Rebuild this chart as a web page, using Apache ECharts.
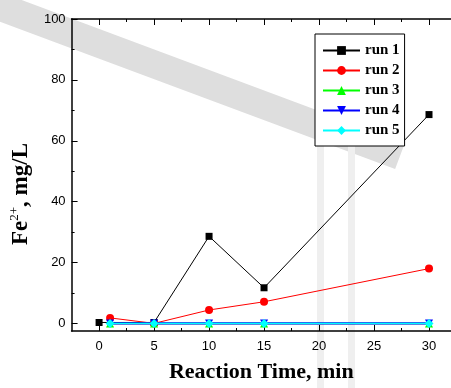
<!DOCTYPE html>
<html>
<head>
<meta charset="utf-8">
<script src="https://cdn.jsdelivr.net/npm/echarts@6/dist/echarts.min.js"></script>
<style>html,body{margin:0;padding:0;background:#fff}#c{width:451px;height:388px}</style>
</head>
<body>
<div id="c"></div>
<script>
// Data
const seriesNames = ['run 1', 'run 2', 'run 3', 'run 4', 'run 5'];
const run1 = [[0, 0.3], [5, 0.3], [10, 28.6], [15, 11.7], [30, 68.6]];
const run2 = [[1, 1.8], [5, 0], [10, 4.4], [15, 7.1], [30, 18.0]];
const run3 = [[1, 0], [5, 0], [10, 0], [15, 0], [30, 0]];
const run4 = [[1, 0], [5, 0], [10, 0], [15, 0], [30, 0]];
const run5 = [[1, 0], [5, 0], [10, 0], [15, 0], [30, 0]];
const xMajorTicks = [0, 5, 10, 15, 20, 25, 30];
const xMinorTicks = [2.5, 7.5, 12.5, 17.5, 22.5, 27.5];
const yMajorTicks = [0, 20, 40, 60, 80, 100];
const yMinorTicks = [10, 30, 50, 70, 90];

const colors = ['#000000', '#ff0000', '#00ff00', '#0000ff', '#00ffff'];
const symbols = ['rect', 'circle', 'triangle', 'path://M0,0 L10,0 L5,10 Z', 'diamond'];
const sizes = [7, 8, 8, 8, 9];
const widths = [1, 1, 1.5, 2.2, 1.3];
const allData = [run1, run2, run3, run4, run5];

const chart = echarts.init(document.getElementById('c'));
const xBase = {type: 'value', min: -2.5, max: 32, splitLine: {show: false}};
const yBase = {type: 'value', min: -2.5, max: 100, splitLine: {show: false}};
const axisLine = {show: true, onZero: false, lineStyle: {color: '#000', width: 1.5}};
const noLine = {show: false, onZero: false};
const labelStyle = {color: '#000', fontFamily: 'Liberation Sans, Arial, sans-serif', fontSize: 13};
const serif = 'Liberation Serif, Times New Roman, serif';

chart.setOption({
  animation: false,
  backgroundColor: '#fff',
  graphic: [
    {type: 'line', z: -10, silent: true, shape: {x1: -5, y1: 5, x2: 400, y2: 156},
      style: {stroke: '#dedede', lineWidth: 28}},
    {type: 'rect', z: -10, silent: true, shape: {x: 317, y: 145, width: 7, height: 243}, style: {fill: '#efefef'}},
    {type: 'rect', z: -10, silent: true, shape: {x: 348, y: 145, width: 7, height: 243}, style: {fill: '#efefef'}}
  ],
  grid: {left: 71, top: 19, width: 381, height: 312, containLabel: false},
  legend: {
    left: 315, top: 34,
    orient: 'vertical',
    data: seriesNames,
    itemWidth: 37, itemHeight: 11, itemGap: 5,
    padding: [9, 5, 8, 7],
    borderColor: '#000', borderWidth: 1,
    backgroundColor: '#fff',
    textStyle: {fontFamily: serif, fontWeight: 'bold', fontSize: 15, color: '#000', lineHeight: 15}
  },
  xAxis: [
    Object.assign({}, xBase, {position: 'bottom', axisLine: axisLine,
      axisTick: {show: true, inside: true, length: 6, customValues: xMajorTicks, lineStyle: {color: '#000', width: 1}},
      axisLabel: {show: true, customValues: xMajorTicks, margin: 9, ...labelStyle},
      name: 'Reaction Time, min', nameLocation: 'middle', nameGap: 30,
      nameTextStyle: {fontFamily: serif, fontWeight: 'bold', fontSize: 22, color: '#000'}}),
    Object.assign({}, xBase, {position: 'bottom', axisLine: noLine,
      axisTick: {show: true, inside: true, length: 3, customValues: xMinorTicks, lineStyle: {color: '#000', width: 1}},
      axisLabel: {show: false}}),
    Object.assign({}, xBase, {position: 'top', axisLine: axisLine,
      axisTick: {show: true, inside: true, length: 6, customValues: xMajorTicks, lineStyle: {color: '#000', width: 1}},
      axisLabel: {show: false}}),
    Object.assign({}, xBase, {position: 'top', axisLine: noLine,
      axisTick: {show: true, inside: true, length: 3, customValues: xMinorTicks, lineStyle: {color: '#000', width: 1}},
      axisLabel: {show: false}})
  ],
  yAxis: [
    Object.assign({}, yBase, {position: 'left', axisLine: axisLine,
      axisTick: {show: true, inside: true, length: 6, customValues: yMajorTicks, lineStyle: {color: '#000', width: 1}},
      axisLabel: {show: true, customValues: yMajorTicks, margin: 6, ...labelStyle},
      name: '{b|Fe}{s|2+}{b|, mg/L}', nameLocation: 'middle', nameGap: 27,
      nameTextStyle: {padding: [0, 38, 0, 0], rich: {
        b: {fontFamily: serif, fontWeight: 'bold', fontSize: 23, color: '#000'},
        s: {fontFamily: serif, fontWeight: 'normal', fontSize: 13, color: '#000', padding: [0, 0, 14, 0]}
      }}}),
    Object.assign({}, yBase, {position: 'left', axisLine: noLine,
      axisTick: {show: true, inside: true, length: 3, customValues: yMinorTicks, lineStyle: {color: '#000', width: 1}},
      axisLabel: {show: false}})
  ],
  series: allData.map((d, i) => ({
    name: seriesNames[i],
    type: 'line',
    xAxisIndex: 0, yAxisIndex: 0,
    data: d,
    symbol: symbols[i],
    symbolSize: sizes[i],
    showAllSymbol: true,
    lineStyle: {color: colors[i], width: widths[i]},
    itemStyle: {color: colors[i]},
    z: 2 + i
  }))
});
</script>
</body>
</html>
